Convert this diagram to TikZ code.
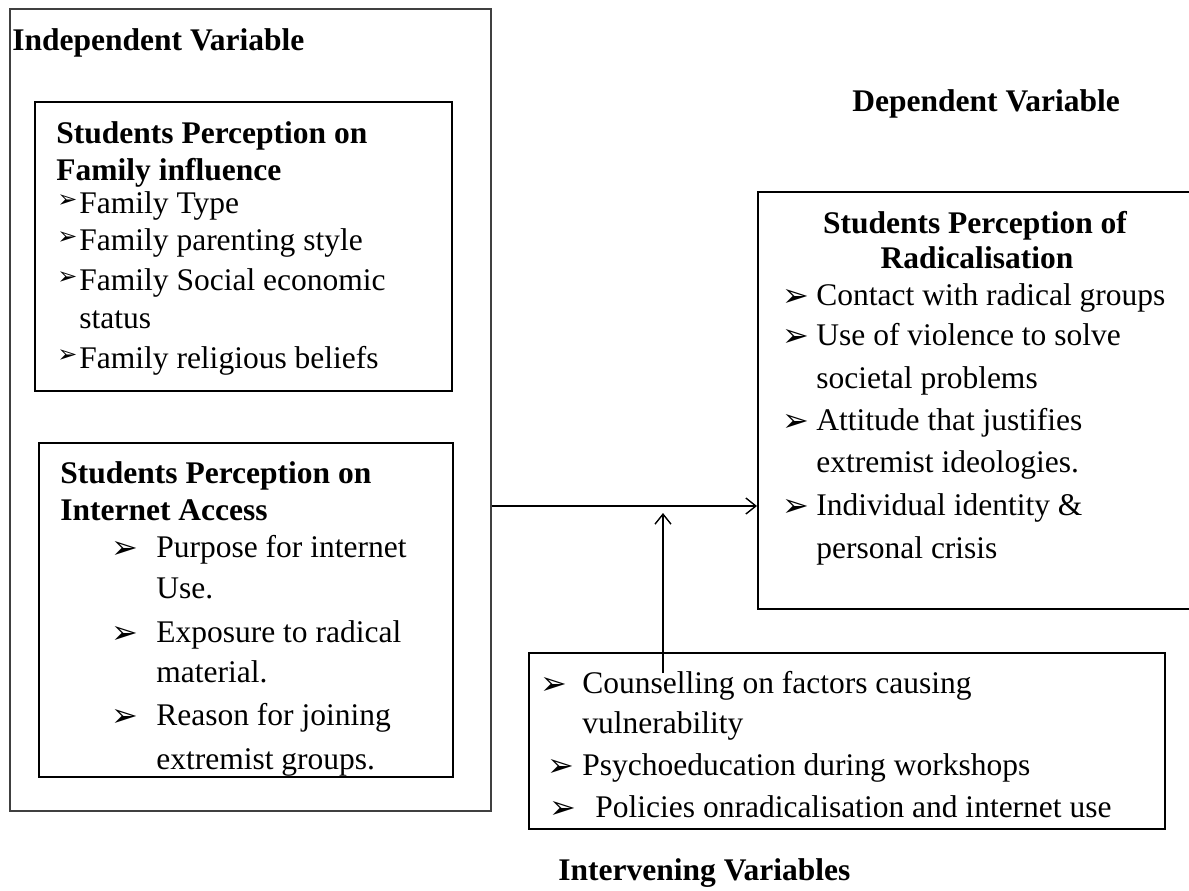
\documentclass[tikz,border=0pt]{standalone}
\usepackage{fontspec}
\setmainfont{Liberation Serif}
\newfontfamily\dingfont{DejaVu Sans}
\usetikzlibrary{positioning, arrows.meta, fit}

\newcommand{\bul}{\raisebox{-0.5pt}{\fontsize{16}{16}\selectfont\dingfont ➢}}
\newcommand{\sbul}{\raisebox{3pt}{\fontsize{12}{12}\selectfont\dingfont ➢}}

\begin{document}
\begin{tikzpicture}[x=0.5pt, y=-0.5pt,
    txt/.style={inner sep=0pt, anchor=base west, font=\fontsize{15.75}{21}\selectfont},
    hd/.style={txt, font=\fontsize{15.75}{21}\selectfont\bfseries},
    frame/.style={draw, line width=1pt, inner sep=0pt},
    outerframe/.style={draw=black!75, line width=0.6pt, inner sep=0pt},
    arr/.style={line width=0.7pt, -{Straight Barb[length=5pt, width=8pt]}}]
    \useasboundingbox (0,0) rectangle (1189,890);
    \clip (0,0) rectangle (1189,890);

    % boxes
    \node[outerframe, fit={(10,9) (491,811)}] (indep) {};
    \node[frame, fit={(35,102) (452,391)}] (family) {};
    \node[frame, fit={(39,443) (453,777)}] (internet) {};
    \node[frame, fit={(758,192) (1196,609)}] (dep) {};
    \node[frame, fit={(529,653) (1165,829)}] (interv) {};

    % titles
    \node[hd] (indeptitle) at (12,50) {Independent Variable};
    \node[hd] (deptitle) at (852,111) {Dependent Variable};
    \node[hd] (intervtitle) at (558,880) {Intervening Variables};

    % family influence
    \node[hd] (fam1) at (56,143) {Students Perception on};
    \node[hd] (fam2) at (56,180) {Family influence};
    \foreach \y/\t [count=\i] in {213/{\makebox[11pt][l]{\sbul}Family Type},
        250/{\makebox[11pt][l]{\sbul}Family parenting style},
        290/{\makebox[11pt][l]{\sbul}Family Social economic},
        328/{\hspace*{11pt}status},
        368/{\makebox[11pt][l]{\sbul}Family religious beliefs}}
    {
    \node[txt] (famitem\i) at (57,\y) {\t};
    }

    % internet access
    \node[hd] (net1) at (60,483) {Students Perception on};
    \node[hd] (net2) at (60,520) {Internet Access};
    \foreach \y/\t [count=\i] in {557/{\makebox[22.5pt][l]{\bul}Purpose for internet},
        598/{\hspace*{22.5pt}Use.},
        642/{\makebox[22.5pt][l]{\bul}Exposure to radical},
        682/{\hspace*{22.5pt}material.},
        725/{\makebox[22.5pt][l]{\bul}Reason for joining},
        769/{\hspace*{22.5pt}extremist groups.}}
    {
    \node[txt] (netitem\i) at (111,\y) {\t};
    }

    % radicalisation
    \node[hd, anchor=base] (rad1) at (975,233) {Students Perception of};
    \node[hd, anchor=base] (rad2) at (977,268) {Radicalisation};
    \foreach \y/\t [count=\i] in {305/{\makebox[17pt][l]{\bul}Contact with radical groups},
        345/{\makebox[17pt][l]{\bul}Use of violence to solve},
        388/{\hspace*{17pt}societal problems},
        430/{\makebox[17pt][l]{\bul}Attitude that justifies},
        472/{\hspace*{17pt}extremist ideologies.},
        515/{\makebox[17pt][l]{\bul}Individual identity \&},
        558/{\hspace*{17pt}personal crisis}}
    {
    \node[txt] (raditem\i) at (782,\y) {\t};
    }

    % intervening
    \node[txt] (intitem1) at (540,693) {\makebox[21pt][l]{\bul}Counselling on factors causing};
    \node[txt] (intitem2) at (582,733) {vulnerability};
    \node[txt] (intitem3) at (547,775) {\makebox[17.5pt][l]{\bul}Psychoeducation during workshops};
    \node[txt] (intitem4) at (549,817) {\makebox[23pt][l]{\bul}Policies onradicalisation and internet use};

    % connectors
    \coordinate (hy) at (0,506);
    \draw[arr] (indep.east |- hy) -- (dep.west |- hy);
    \coordinate (vsrc) at (663,673);
    \coordinate (vtip) at (663,513);
    \draw[arr] (vsrc) -- (vtip);
\end{tikzpicture}
\end{document}
